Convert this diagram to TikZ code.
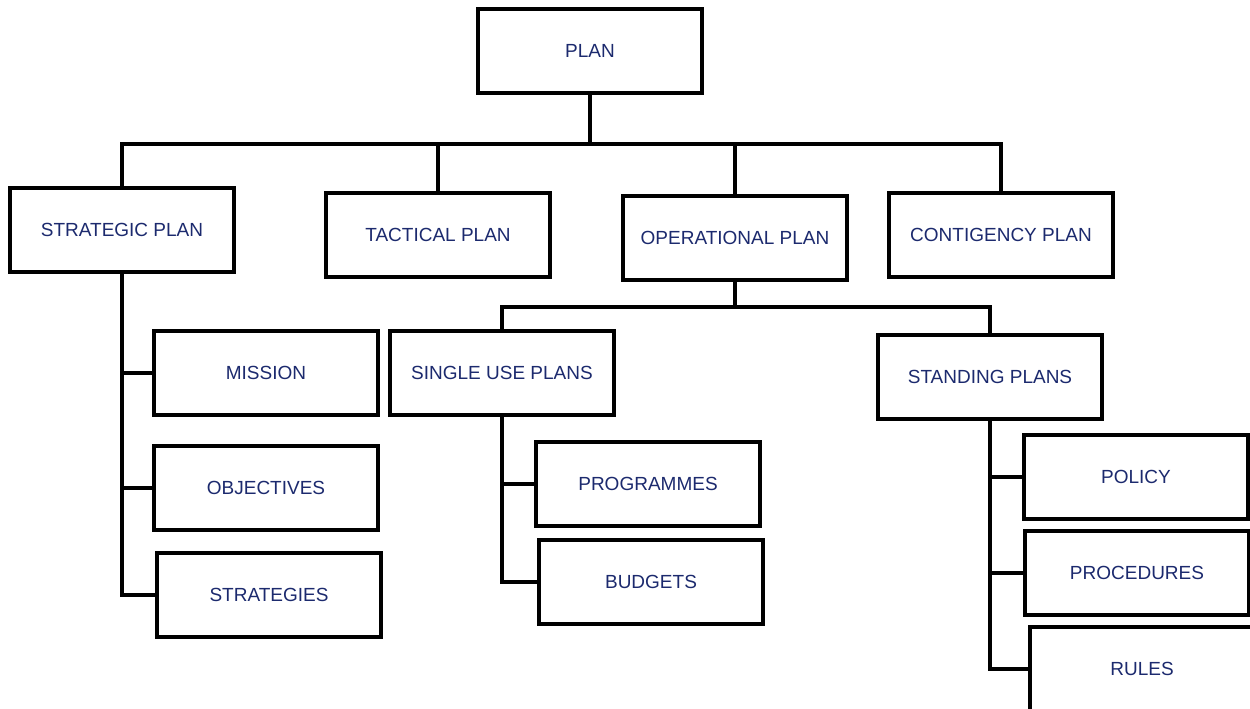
\documentclass[tikz,border=0pt]{standalone}
\usepackage{fontspec}
\setmainfont{Liberation Sans}
\usetikzlibrary{positioning}
\definecolor{plannavy}{RGB}{28,42,110}

\begin{document}
\begin{tikzpicture}[x=1pt, y=-1pt,
        planbox/.style={rectangle, draw, line width=3.2pt, minimum width=224pt, minimum height=84pt, inner sep=0pt, text=plannavy, font=\fontsize{19}{22}\selectfont},
        link/.style={-, line width=3.2pt}]
        \clip (0,0) rectangle (1250,709);
        \fill[white] (0,0) rectangle (1250,709);
        %% Top level
    	\node[planbox] (plan) at (590,51) {PLAN};
    	\node[planbox] (strat) at (122,230) {STRATEGIC PLAN};
    	\node[planbox] (tact) at (438,235) {TACTICAL PLAN};
    	\node[planbox] (oper) at (735,238) {OPERATIONAL PLAN};
    	\node[planbox] (cont) at (1001,235) {CONTIGENCY PLAN};
    	\coordinate (bus) at (590,144);
    	
    	\draw[link] (plan.south) -- (bus);
    	\draw[link] (bus) -| (strat.north);
    	\draw[link] (bus) -| (tact.north);
    	\draw[link] (bus) -| (oper.north);
    	\draw[link] (bus) -| (cont.north);
    	
        %% Strategic plan
    	\node[planbox] (mission) at (266,373) {MISSION};
    	\node[planbox] (object) at (266,488) {OBJECTIVES};
    	\node[planbox] (strategy) at (269,595) {STRATEGIES};
    	
    	\draw[link] (strat.south) |- (mission.west);
    	\draw[link] (strat.south) |- (object.west);
    	\draw[link] (strat.south) |- (strategy.west);
    	
        %% Operational plan
    	\node[planbox] (single) at (502,373) {SINGLE USE PLANS};
    	\node[planbox] (stand) at (990,377) {STANDING PLANS};
    	\coordinate (opbus) at (735,307);
    	
    	\draw[link] (oper.south) -- (opbus);
    	\draw[link] (opbus) -| (single.north);
    	\draw[link] (opbus) -| (stand.north);
    	
    	\node[planbox] (prog) at (648,484) {PROGRAMMES};
    	\node[planbox] (budget) at (651,582) {BUDGETS};
    	
    	\draw[link] (single.south) |- (prog.west);
    	\draw[link] (single.south) |- (budget.west);
    	
    	\node[planbox] (policy) at (1136,477) {POLICY};
    	\node[planbox] (proc) at (1137,573) {PROCEDURES};
    	\node[planbox] (rules) at (1142,669) {RULES};
    	
    	\draw[link] (stand.south) |- (policy.west);
    	\draw[link] (stand.south) |- (proc.west);
    	\draw[link] (stand.south) |- (rules.west);
    \end{tikzpicture}
\end{document}
